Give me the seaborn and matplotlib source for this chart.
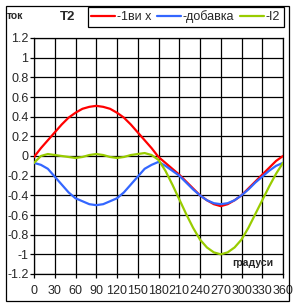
import matplotlib
matplotlib.use("Agg")
import matplotlib.pyplot as plt
import matplotlib.patches as mpatches
import seaborn as sns
import pandas as pd

degrees = [0, 10, 20, 30, 40, 50, 60, 70, 80, 90, 100, 110, 120, 130, 140, 150, 160, 170, 180,
           190, 200, 210, 220, 230, 240, 250, 260, 270, 280, 290, 300, 310, 320, 330, 340, 350, 360]
red_vals = [-0.01, 0.08, 0.16, 0.24, 0.32, 0.39, 0.44, 0.48, 0.50, 0.51, 0.50, 0.48, 0.44, 0.39, 0.32, 0.24, 0.16, 0.08, -0.01,
            -0.07, -0.13, -0.19, -0.26, -0.33, -0.40, -0.45, -0.49, -0.51, -0.49, -0.45, -0.40, -0.33, -0.26, -0.19, -0.12, -0.05, 0.0]
blue_vals = [-0.07, -0.09, -0.13, -0.21, -0.29, -0.37, -0.43, -0.46, -0.49, -0.50, -0.49, -0.46, -0.43, -0.37, -0.29, -0.21, -0.13, -0.09, -0.06,
             -0.10, -0.15, -0.20, -0.27, -0.34, -0.40, -0.45, -0.48, -0.49, -0.48, -0.45, -0.40, -0.34, -0.27, -0.21, -0.15, -0.10, -0.07]
green_vals = [-0.07, 0.0, 0.02, 0.01, 0.0, -0.01, -0.02, -0.01, 0.01, 0.02, 0.01, -0.01, -0.02, -0.01, 0.01, 0.02, 0.03, 0.01, -0.04,
              -0.15, -0.29, -0.44, -0.59, -0.73, -0.85, -0.93, -0.98, -1.0, -0.98, -0.93, -0.85, -0.73, -0.59, -0.45, -0.31, -0.18, -0.07]
series_names = ["-1ви x", "-добавка", "-I2"]
series_colors = ["#FF0000", "#3366FF", "#99CC00"]
x_ticks = [0, 30, 60, 90, 120, 150, 180, 210, 240, 270, 300, 330, 360]
y_ticks = [-1.2, -1.0, -0.8, -0.6, -0.4, -0.2, 0.0, 0.2, 0.4, 0.6, 0.8, 1.0, 1.2]
y_labels = ["-1.2", "-1", "-0.8", "-0.6", "-0.4", "-0.2", "0", "0.2", "0.4", "0.6", "0.8", "1", "1.2"]

sns.set_style("white")
plt.rcParams['font.family'] = ['Liberation Sans', 'DejaVu Sans']

W, H = 296, 307
fig = plt.figure(figsize=(W / 100, H / 100), dpi=100)
ax = fig.add_axes([34 / W, 1 - 274 / H, (283 - 34) / W, (274 - 38) / H])

df = pd.DataFrame({
    "deg": degrees * 3,
    "val": red_vals + blue_vals + green_vals,
    "series": [series_names[0]] * len(degrees) + [series_names[1]] * len(degrees) + [series_names[2]] * len(degrees),
})
sns.lineplot(data=df, x="deg", y="val", hue="series", palette=series_colors,
             hue_order=series_names, linewidth=1.6, ax=ax, legend=False, zorder=3)

ax.set_xlim(0, 360)
ax.set_ylim(-1.2, 1.2)
ax.set_xticks(x_ticks)
ax.set_xticklabels([str(t) for t in x_ticks])
ax.set_yticks(y_ticks)
ax.set_yticklabels(y_labels)
ax.grid(True, color="black", linewidth=0.9)
ax.set_axisbelow(True)
for s in ax.spines.values():
    s.set_color("black")
    s.set_linewidth(0.9)
ax.tick_params(axis="both", direction="out", length=3, width=0.9, color="black",
               labelsize=9, pad=1, bottom=True, left=True)
ax.tick_params(axis="x", pad=5)
ax.set_xlabel("")
ax.set_ylabel("")

# outer chart frame
fig.patches.append(mpatches.Rectangle((5.5 / W, 1 - 300.5 / H), (289 - 5.5) / W, (300.5 - 5.5) / H,
                                      transform=fig.transFigure, fill=False,
                                      edgecolor="black", linewidth=0.9))

fig.text(7 / W, 1 - 16 / H, "ток", fontsize=7.5, fontweight="bold", va="center", ha="left")
fig.text(60 / W, 1 - 17 / H, "T2", fontsize=9.5, fontweight="bold", va="center", ha="left")
fig.text(232 / W, 1 - 263 / H, "градуси", fontsize=7.5, fontweight="bold", va="center", ha="left")

handles = [plt.Line2D([], [], color=c, linewidth=1.6) for c in series_colors]
leg = fig.legend(handles, series_names, ncol=3, loc="upper right",
                 bbox_to_anchor=(283.5 / W, 1 - 6.5 / H), fontsize=9,
                 frameon=True, fancybox=False, edgecolor="black", framealpha=1,
                 handlelength=1.9, handletextpad=0.15, columnspacing=0.45,
                 borderpad=0.3, borderaxespad=0)
leg.get_frame().set_linewidth(0.9)

fig.savefig("out.png", dpi=100)
